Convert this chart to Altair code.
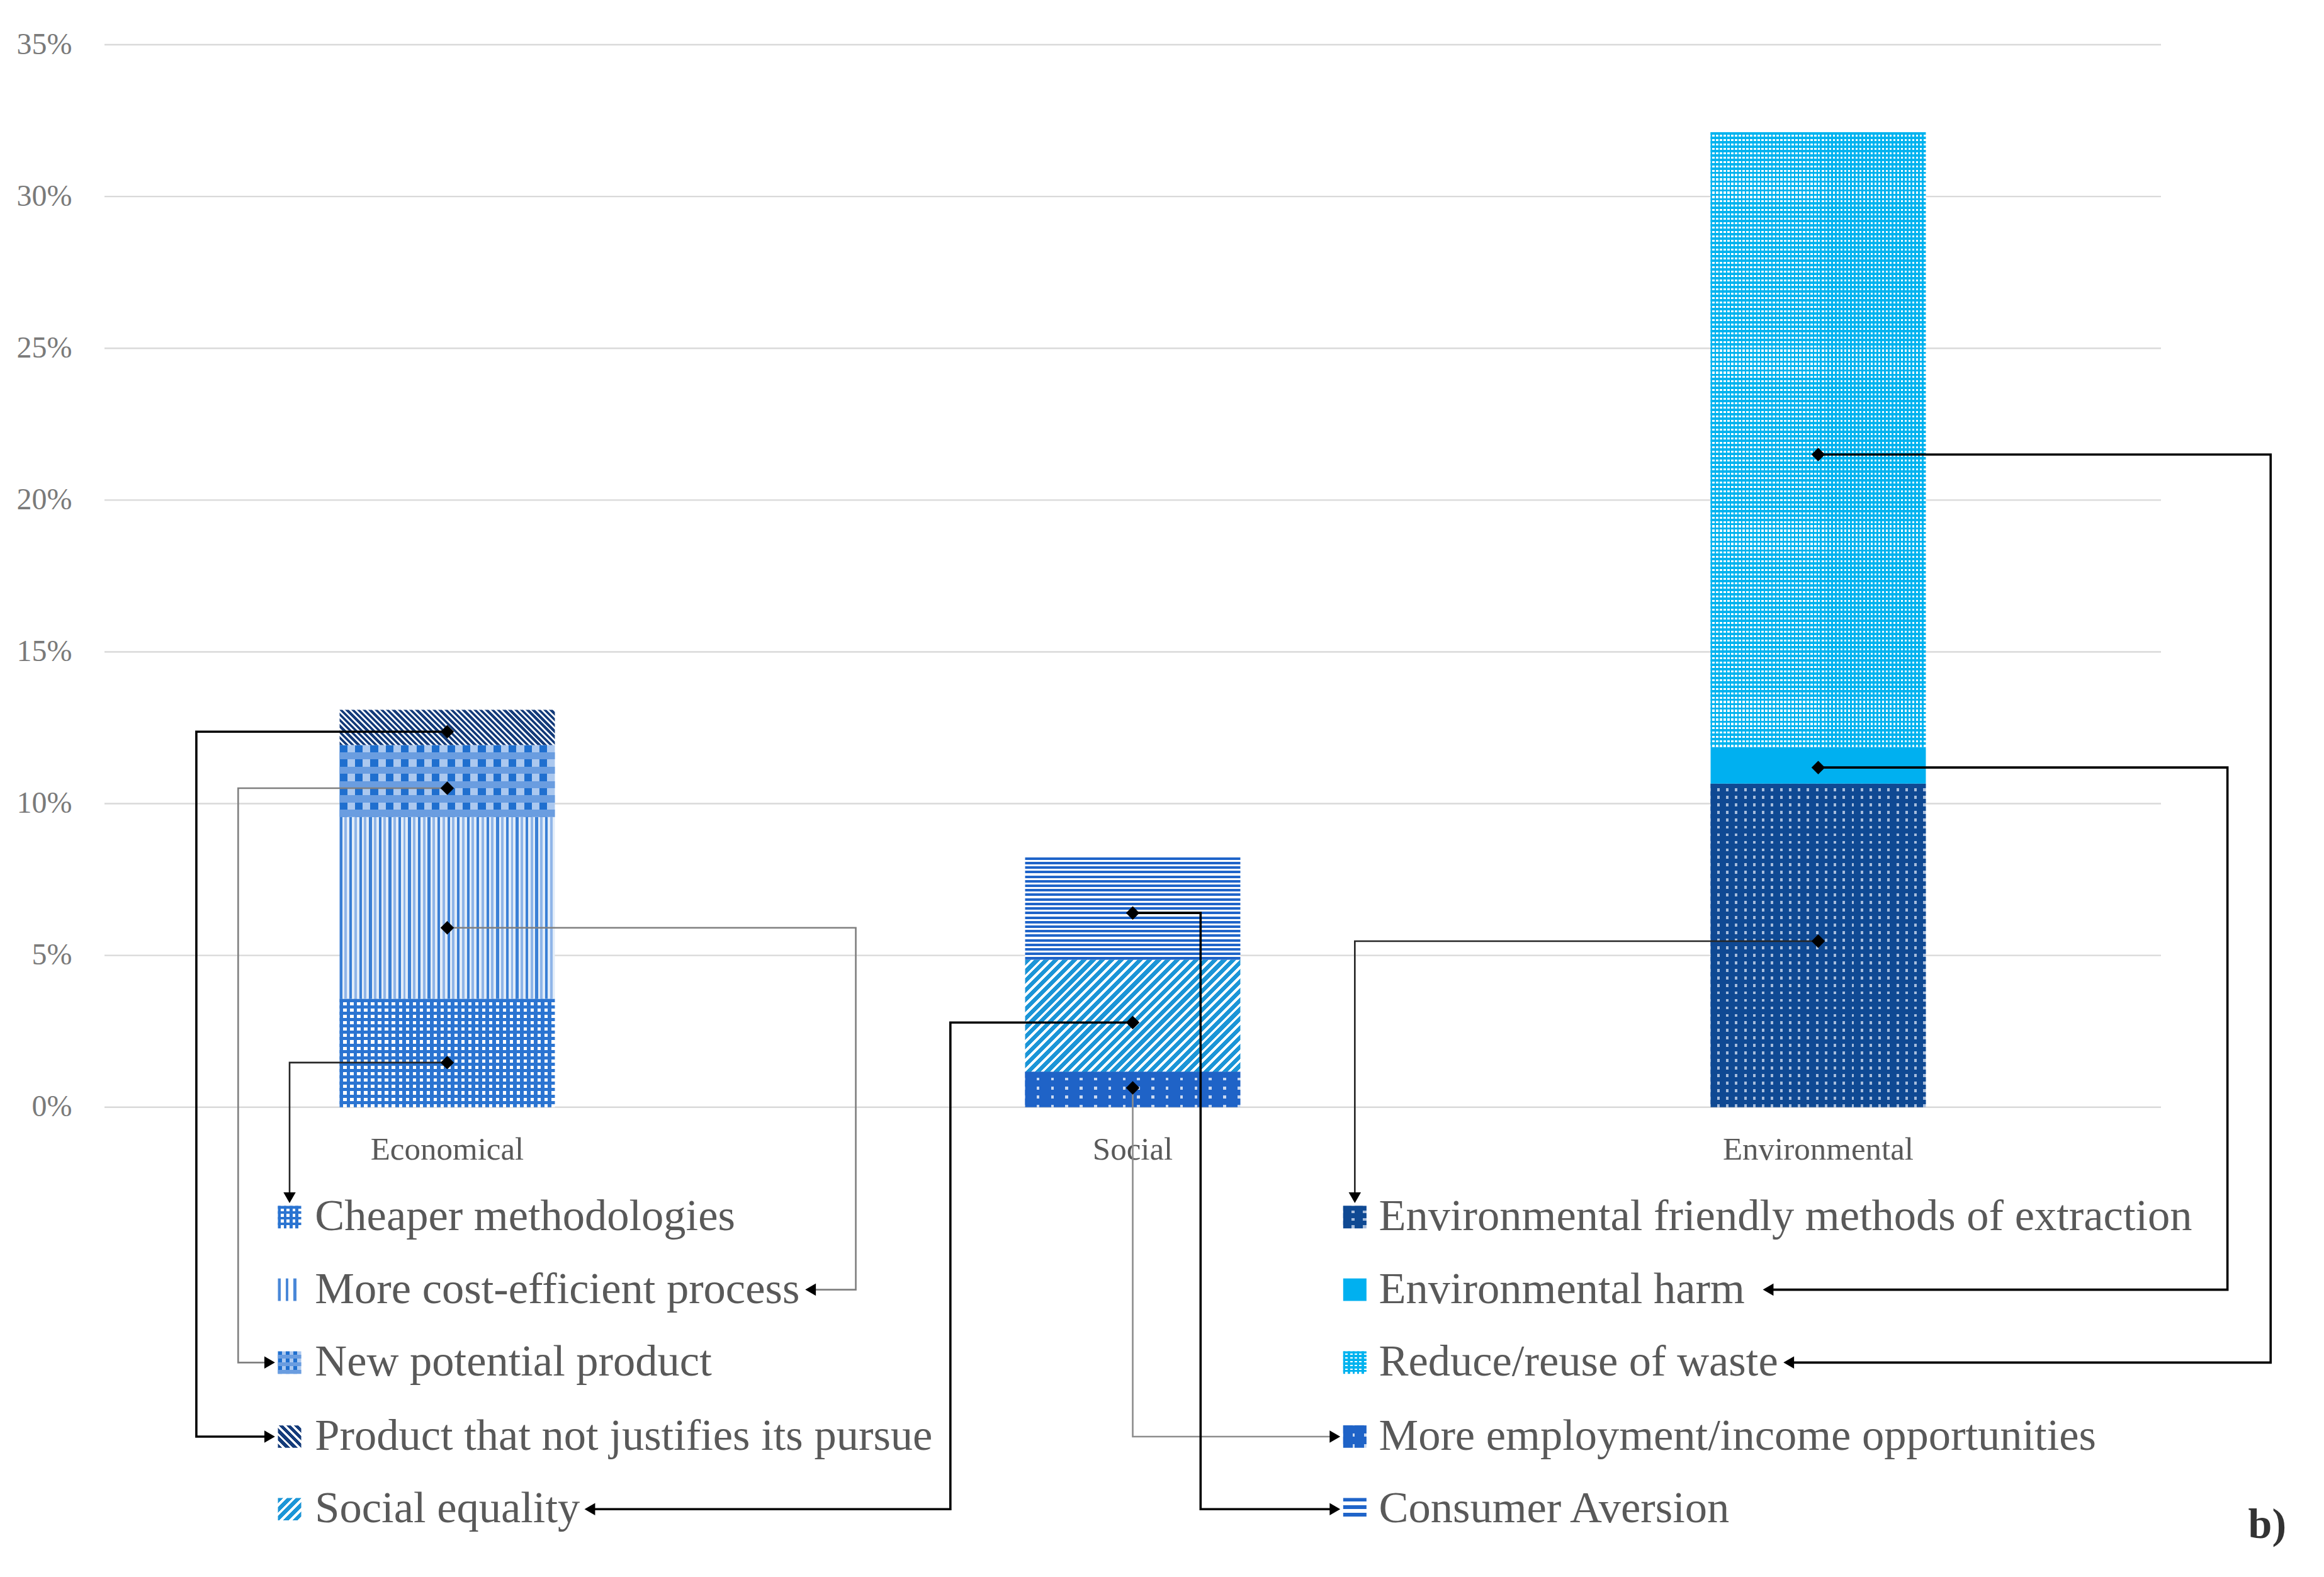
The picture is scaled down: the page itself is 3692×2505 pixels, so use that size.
import math
import altair as alt
import pandas as pd

# ---------------- data ----------------
categories = ["Economical", "Social", "Environmental"]
series_names = [
    "Cheaper methodologies",
    "More cost-efficient process",
    "New potential product",
    "Product that not justifies its pursue",
    "More employment/income opportunities",
    "Social equality",
    "Consumer Aversion",
    "Environmental friendly methods of extraction",
    "Environmental harm",
    "Reduce/reuse of waste",
]
series_category = ["Economical"] * 4 + ["Social"] * 3 + ["Environmental"] * 3
series_values = [3.57, 5.99, 2.37, 1.16, 1.17, 3.69, 3.44, 10.66, 1.21, 20.25]
y_ticks = [0, 5, 10, 15, 20, 25, 30, 35]
legend_left = [
    "Cheaper methodologies",
    "More cost-efficient process",
    "New potential product",
    "Product that not justifies its pursue",
    "Social equality",
]
legend_right = [
    "Environmental friendly methods of extraction",
    "Environmental harm",
    "Reduce/reuse of waste",
    "More employment/income opportunities",
    "Consumer Aversion",
]
# height (%) at which each connector leaves its bar segment
anchor_values = [1.47, 5.91, 10.51, 12.37, 0.64, 2.79, 6.40, 5.47, 11.19, 21.5]

# ---------------- layout ----------------
W, H = 3267, 2387
Y_MIN, Y_MAX = -14.5, 35
X_MAX = 3
XPX = W / X_MAX
YPX = H / (Y_MAX - Y_MIN)
BAR_HALF = 0.157
ROW_Y = [-3.62, -6.01, -8.41, -10.85, -13.24]
COL_SWATCH = [0.253, 1.807]
SW_W = 0.034
SW_H = 0.74
COL_TEXT = [0.307, 1.859]
CAT_LABEL_Y = -1.42
ARROW_DX = 0.012
ARROW_DY = 0.27
FONT = "Liberation Serif"

xs = alt.Scale(domain=[0, X_MAX], nice=False, zero=False)
ys = alt.Scale(domain=[Y_MIN, Y_MAX], nice=False, zero=False)
YAX = alt.Axis(
    values=y_ticks,
    labelExpr="datum.value + '%'",
    grid=False,
    domain=False,
    ticks=False,
    title=None,
    labelFont=FONT,
    labelFontSize=48,
    labelColor="#7a7a7a",
    labelPadding=52,
)


def X(f):
    return alt.X(f, scale=xs, axis=None)


def Y(f):
    return alt.Y(f, scale=ys, axis=YAX)


TR = "rgba(255,255,255,0)"

# pattern specs for bar segments and legend swatches
bar_specs = {
    "Cheaper methodologies": ("dots", [("#2b74d1", 0.52), ("#ffffff", 0.48)], 11, [("#2b74d1", 0.5), (TR, 0.5)], 10),
    "More cost-efficient process": ("v", [("#3a7fd5", 0.28), ("#e2ecf8", 0.22), ("#8fb5e8", 0.25), ("#e2ecf8", 0.25)], 15.6),
    "New potential product": ("dots", [("#1f6fcf", 0.5), ("#abc8ef", 0.5)], 24, [(TR, 0.5), ("#6a9de0", 0.5)], 24),
    "Product that not justifies its pursue": ("d_down", [("#143b7a", 0.58), ("#eef2f8", 0.42)], 6.5),
    "More employment/income opportunities": ("dots", [("#1f63c7", 0.8), ("#c9d9f1", 0.2)], 23, [("#1f63c7", 0.7), (TR, 0.3)], 15),
    "Social equality": ("d_up", [("#1b95d7", 0.62), ("#ffffff", 0.38)], 10.5),
    "Consumer Aversion": ("h", [("#ffffff", 0.45), ("#1f64c9", 0.55)], 7.3),
    "Environmental friendly methods of extraction": ("dots", [("#0f4993", 0.72), ("#a7bddc", 0.28)], 14, [("#0f4993", 0.6), (TR, 0.4)], 12),
    "Environmental harm": ("solid", "#00b0f0"),
    "Reduce/reuse of waste": ("dots", [("#00b3ef", 0.4), ("#ffffff", 0.6)], 6, [("#00b3ef", 0.55), (TR, 0.45)], 7),
}
swatch_specs = {
    "Cheaper methodologies": ("dots", [("#2b74d1", 0.5), ("#ffffff", 0.5)], 10, [("#2b74d1", 0.45), (TR, 0.55)], 9),
    "More cost-efficient process": ("v", [("#4a88d8", 0.35), ("#ffffff", 0.65)], 12),
    "New potential product": ("dots", [("#1f6fcf", 0.5), ("#abc8ef", 0.5)], 12, [(TR, 0.5), ("#6a9de0", 0.5)], 12),
    "Product that not justifies its pursue": ("d_down", [("#143b7a", 0.6), ("#ffffff", 0.4)], 8),
    "More employment/income opportunities": ("dots", [("#1f63c7", 0.8), ("#c9d9f1", 0.2)], 19, [("#1f63c7", 0.7), (TR, 0.3)], 18),
    "Social equality": ("d_up", [("#1b95d7", 0.6), ("#ffffff", 0.4)], 11),
    "Consumer Aversion": ("h", [("#1f64c9", 0.5), ("#ffffff", 0.5)], 12),
    "Environmental friendly methods of extraction": ("dots", [("#0f4993", 0.7), ("#a7bddc", 0.3)], 19, [("#0f4993", 0.6), (TR, 0.4)], 12),
    "Environmental harm": ("solid", "#00b0f0"),
    "Reduce/reuse of waste": ("dots", [("#00b3ef", 0.45), ("#ffffff", 0.55)], 7, [("#00b3ef", 0.55), (TR, 0.45)], 6),
}

# connector routes: (kind, elbow x, text-end x)
routes = {
    "Cheaper methodologies": ("down", None, None),
    "More cost-efficient process": ("text", 1.096, 1.030),
    "New potential product": ("swatch", 0.195, None),
    "Product that not justifies its pursue": ("swatch", 0.134, None),
    "More employment/income opportunities": ("swatch", None, None),
    "Social equality": ("text", 1.234, 0.708),
    "Consumer Aversion": ("swatch", 1.599, None),
    "Environmental friendly methods of extraction": ("down", None, None),
    "Environmental harm": ("text", 3.097, 2.427),
    "Reduce/reuse of waste": ("text", 3.160, 2.457),
}
line_style = {
    "Cheaper methodologies": ("#262626", 2.6),
    "More cost-efficient process": ("#7f7f7f", 2.6),
    "New potential product": ("#7f7f7f", 2.6),
    "Product that not justifies its pursue": ("#000000", 3.6),
    "More employment/income opportunities": ("#8c8c8c", 2.6),
    "Social equality": ("#000000", 3.6),
    "Consumer Aversion": ("#000000", 3.6),
    "Environmental friendly methods of extraction": ("#262626", 2.6),
    "Environmental harm": ("#000000", 3.6),
    "Reduce/reuse of waste": ("#000000", 3.6),
}


def stripe_grad(pattern, n, x1, y1, x2, y2):
    stops = []
    for k in range(n):
        acc = 0.0
        for color, frac in pattern:
            a = (k + acc) / n
            acc += frac
            b = min((k + acc) / n, 1.0)
            stops.append({"offset": round(a, 5), "color": color})
            stops.append({"offset": round(b, 5), "color": color})
    return {"gradient": "linear", "x1": x1, "y1": y1, "x2": x2, "y2": y2, "stops": stops}


def fills(spec, w, h):
    kind = spec[0]
    if kind == "solid":
        return [spec[1]]
    if kind == "v":
        return [stripe_grad(spec[1], max(1, round(w / spec[2])), 0, 0, 1, 0)]
    if kind == "h":
        return [stripe_grad(spec[1], max(1, round(h / spec[2])), 0, 0, 0, 1)]
    if kind in ("d_up", "d_down"):
        # 45-degree stripes inside a w x h box (gradient in bounding-box units)
        L = (w + h) / math.sqrt(2)
        k = (w + h) / (w * w + h * h)
        n = max(1, round(L / spec[2]))
        if kind == "d_up":
            return [stripe_grad(spec[1], n, 0, 0, w * k, h * k)]
        return [stripe_grad(spec[1], n, 0, 1, w * k, 1 - h * k)]
    if kind == "dots":
        return [
            stripe_grad(spec[1], max(1, round(w / spec[2])), 0, 0, 1, 0),
            stripe_grad(spec[3], max(1, round(h / spec[4])), 0, 0, 0, 1),
        ]
    return ["#888888"]


def rect_layers(df, spec, w, h):
    out = []
    for f in fills(spec, w, h):
        out.append(
            alt.Chart(df).mark_rect(fill=f).encode(
                x=X("x0:Q"), x2="x1:Q", y=Y("y0:Q"), y2="y1:Q"
            )
        )
    return out


layers = []

# gridlines
grid_df = pd.DataFrame({"y": y_ticks, "x0": 0, "x1": X_MAX})
layers.append(
    alt.Chart(grid_df).mark_rule(color="#d9d9d9", strokeWidth=2.4).encode(
        x=X("x0:Q"), x2="x1:Q", y=Y("y:Q")
    )
)

# bar segments
cum = {c: 0.0 for c in categories}
seg = {}
for name, cat, v in zip(series_names, series_category, series_values):
    ci = categories.index(cat)
    y0 = cum[cat]
    y1 = y0 + v
    cum[cat] = y1
    seg[name] = (ci, y0, y1)
    df = pd.DataFrame({"x0": [ci + 0.5 - BAR_HALF], "x1": [ci + 0.5 + BAR_HALF], "y0": [y0], "y1": [y1], "s": [name]})
    layers += rect_layers(df, bar_specs[name], 2 * BAR_HALF * XPX, v * YPX)

# category labels
cat_df = pd.DataFrame({"t": categories, "x": [i + 0.5 for i in range(len(categories))], "y": CAT_LABEL_Y})
layers.append(
    alt.Chart(cat_df).mark_text(font=FONT, fontSize=51, color="#595959", align="center", baseline="middle").encode(
        x=X("x:Q"), y=Y("y:Q"), text="t:N"
    )
)

# legend positions
legend_pos = {}
for r, n in enumerate(legend_left):
    legend_pos[n] = (0, r)
for r, n in enumerate(legend_right):
    legend_pos[n] = (1, r)

# legend swatches and text
txt_rows = []
for name in series_names:
    col, row = legend_pos[name]
    df = pd.DataFrame({
        "x0": [COL_SWATCH[col]], "x1": [COL_SWATCH[col] + SW_W],
        "y0": [ROW_Y[row] - SW_H / 2], "y1": [ROW_Y[row] + SW_H / 2],
    })
    layers += rect_layers(df, swatch_specs[name], SW_W * XPX, SW_H * YPX)
    txt_rows.append({"t": name, "x": COL_TEXT[col], "y": ROW_Y[row]})
layers.append(
    alt.Chart(pd.DataFrame(txt_rows)).mark_text(font=FONT, fontSize=70.5, color="#595959", align="left", baseline="middle").encode(
        x=X("x:Q"), y=Y("y:Q"), text="t:N"
    )
)

# connectors
line_rows, dia_rows, arr_rows = [], [], []
for name, ay in zip(series_names, anchor_values):
    ci = seg[name][0]
    cx = ci + 0.5
    col, row = legend_pos[name]
    kind, ex, tx = routes[name]
    ry = ROW_Y[row]
    if kind == "down":
        sx = COL_SWATCH[col] + SW_W / 2
        pts = [(cx, ay), (sx, ay), (sx, ry + SW_H / 2 + ARROW_DY)]
        shape = "triangle-down"
    elif kind == "swatch":
        e = cx if ex is None else ex
        pts = [(cx, ay)] + ([(e, ay)] if ex is not None else []) + [(e, ry), (COL_SWATCH[col] - ARROW_DX, ry)]
        shape = "triangle-right"
    else:
        pts = [(cx, ay), (ex, ay), (ex, ry), (tx, ry)]
        shape = "triangle-left"
    color, sw = line_style[name]
    for k, (px, py) in enumerate(pts):
        line_rows.append({"cid": name, "k": k, "x": px, "y": py, "c": color, "sw": sw})
    dia_rows.append({"x": pts[0][0], "y": pts[0][1]})
    arr_rows.append({"x": pts[-1][0], "y": pts[-1][1], "shape": shape})

layers.append(
    alt.Chart(pd.DataFrame(line_rows)).mark_line(strokeJoin="miter", strokeCap="butt").encode(
        x=X("x:Q"),
        y=Y("y:Q"),
        detail="cid:N",
        order="k:Q",
        color=alt.Color("c:N", scale=None),
        strokeWidth=alt.StrokeWidth("sw:Q", scale=None),
    )
)
layers.append(
    alt.Chart(pd.DataFrame(dia_rows)).mark_point(shape="diamond", filled=True, color="#000000", opacity=1, size=460).encode(
        x=X("x:Q"), y=Y("y:Q")
    )
)
layers.append(
    alt.Chart(pd.DataFrame(arr_rows)).mark_point(filled=True, color="#000000", opacity=1, size=380).encode(
        x=X("x:Q"), y=Y("y:Q"), shape=alt.Shape("shape:N", scale=None)
    )
)

# panel tag
tag_df = pd.DataFrame({"t": ["b)"], "x": [3.155], "y": [-13.77]})
layers.append(
    alt.Chart(tag_df).mark_text(font=FONT, fontSize=68, fontWeight="bold", color="#333333", align="center", baseline="middle").encode(
        x=X("x:Q"), y=Y("y:Q"), text="t:N"
    )
)

chart = (
    alt.layer(*layers)
    .properties(
        width=W,
        height=H,
        autosize=alt.AutoSizeParams(type="none"),
        padding={"left": 158, "top": 63, "right": 245, "bottom": 30},
        background="white",
    )
    .configure_view(stroke=None)
)

chart.save("out.html", embed_options={"renderer": "svg", "actions": False})
